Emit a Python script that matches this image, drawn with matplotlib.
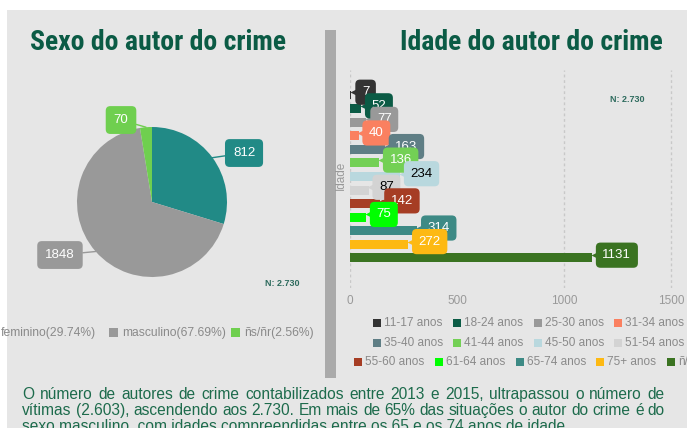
import matplotlib
matplotlib.use("Agg")
import matplotlib.pyplot as plt
from matplotlib.patches import Rectangle
from matplotlib.transforms import offset_copy

W, H = 687, 428

# data
sex_labels = ["feminino", "masculino", "ñs/ñr"]
sex_values = [812, 1848, 70]
sex_pct = ["29.74%", "67.69%", "2.56%"]
sex_colors = ["#218a86", "#999999", "#6fcf4f"]

age_labels = ["11-17 anos", "18-24 anos", "25-30 anos", "31-34 anos",
              "35-40 anos", "41-44 anos", "45-50 anos", "51-54 anos",
              "55-60 anos", "61-64 anos", "65-74 anos", "75+ anos", "ñ/r"]
age_values = [7, 52, 77, 40, 163, 136, 234, 87, 142, 75, 314, 272, 1131]
age_colors = ["#333333", "#0b5b45", "#999999", "#fa8060", "#5f7e85", "#73d055",
              "#b9d8de", "#d3d3d3", "#a63d24", "#00ff00", "#3d8a85", "#fdb913",
              "#3a7321"]
dark_text = {"#b9d8de", "#d3d3d3"}

title_green = "#0b5b45"
txt_gray = "#8a8a8a"
para_green = "#1d6b4c"
FONT = ["Liberation Sans", "DejaVu Sans"]
TFONT = ["Roboto Condensed", "Open Sans Condensed", "DejaVu Sans"]


def fx(x):
    return x / W


def fy(y):
    return 1 - y / H


fig = plt.figure(figsize=(W / 100, H / 100), dpi=100, facecolor="white")
fig.patches.append(Rectangle((fx(7), 0), 1, fy(10), transform=fig.transFigure,
                             facecolor="#e6e6e6", edgecolor="none", zorder=-10))
# divider
fig.patches.append(Rectangle((fx(325), fy(378)), fx(11), (378 - 30) / H,
                             transform=fig.transFigure, facecolor="#aaaaaa",
                             edgecolor="none"))

# titles
for tx, title in [(158, "Sexo do autor do crime"), (531, "Idade do autor do crime")]:
    fig.text(fx(tx), fy(43), title, family=TFONT, weight="heavy",
             fontstretch="condensed", fontsize=20, color=title_green,
             ha="center", va="center")

# pie
cx, cy, r = 152, 202, 75
lim = 1.4
ax_p = fig.add_axes([fx(cx - r * lim), fy(cy + r * lim), 2 * r * lim / W, 2 * r * lim / H])
ax_p.pie(sex_values, colors=sex_colors, startangle=90, counterclock=False, radius=1)
ax_p.set_xlim(-lim, lim)
ax_p.set_ylim(-lim, lim)
ax_p.axis("off")

lbl_pos = [(1.227, 0.653), (-1.227, -0.707), (-0.413, 1.093)]
anchors = [(0.80, 0.59), (-0.75, -0.66), (-0.08, 0.997)]
for val, col, pos, anc in zip(sex_values, sex_colors, lbl_pos, anchors):
    ax_p.annotate(str(val), xy=anc, xytext=pos, fontsize=9.5, color="white",
                  family=FONT, ha="center", va="center",
                  bbox=dict(boxstyle="round,pad=0.6,rounding_size=0.35", fc=col, ec="none"),
                  arrowprops=dict(arrowstyle="-", color=col, lw=1, shrinkA=0, shrinkB=0))

fig.text(fx(282), fy(283), "N: 2.730", family=FONT, weight="bold", fontsize=6.5,
         color="#2e6b5e", ha="center", va="center")

# pie legend
leg_x = [-12, 109, 231]
for lx, lab, pct, col in zip(leg_x, sex_labels, sex_pct, sex_colors):
    fig.patches.append(Rectangle((fx(lx), fy(337)), 9 / W, 9 / H,
                                 transform=fig.transFigure, facecolor=col, edgecolor="none"))
    fig.text(fx(lx + 13), fy(333), f"{lab}({pct})", family=FONT, fontsize=8.7,
             color=txt_gray, ha="left", va="center")

# bar chart
y0_px, step = 95, 13.58
top_px, bot_px = 70, 288
ax_b = fig.add_axes([fx(350), fy(bot_px), (W - 350) / W, (bot_px - top_px) / H])
ax_b.set_facecolor("none")
idx = list(range(len(age_values)))
ax_b.barh(idx, age_values, height=0.66, color=age_colors)
ax_b.set_ylim((bot_px - y0_px) / step, (top_px - y0_px) / step)
ax_b.set_xlim(0, (W - 350) / 0.214)
ax_b.set_xticks([0, 500, 1000, 1500])
ax_b.set_yticks([])
ax_b.tick_params(axis="x", length=0, pad=5, labelsize=8.5, labelcolor="#999999")
for lab in ax_b.get_xticklabels():
    lab.set_family(FONT)
for s in ax_b.spines.values():
    s.set_visible(False)
for gx in [0, 1000, 1500]:
    ax_b.axvline(gx, color="#c8c8c8", lw=1, ls=(0, (2, 2)), zorder=0)

for i, (v, col) in enumerate(zip(age_values, age_colors)):
    tc = "black" if col in dark_text else "white"
    tr = offset_copy(ax_b.transData, fig=fig, x=2.5, y=2, units="points")
    ax_b.plot([v], [i], marker="<", ms=7, color=col, mec="none", transform=tr,
              clip_on=False, zorder=4)
    ax_b.annotate(str(v), xy=(v, i), xytext=(7.5, 2), textcoords="offset points",
                  fontsize=9.5, color=tc, family=FONT, ha="left", va="center",
                  bbox=dict(boxstyle="round,pad=0.5,rounding_size=0.35", fc=col, ec="none"),
                  zorder=5, annotation_clip=False)

fig.text(fx(341), fy(175), "Idade", family=FONT, fontsize=8.5, color="#999999",
         rotation=90, ha="center", va="center")
fig.text(fx(627), fy(100), "N: 2.730", family=FONT, weight="bold", fontsize=6.5,
         color="#2e6b5e", ha="center", va="center")

# bar legend
rows_y = [323, 343, 362]
row_x = [[373, 453, 534, 614], [373, 453, 534, 614], [354, 435, 516, 596, 667]]
k = 0
for ry, xs in zip(rows_y, row_x):
    for lx in xs:
        fig.patches.append(Rectangle((fx(lx), fy(ry + 4)), 8 / W, 8 / H,
                                     transform=fig.transFigure, facecolor=age_colors[k],
                                     edgecolor="none"))
        fig.text(fx(lx + 11), fy(ry), age_labels[k], family=FONT, fontsize=8.5,
                 color=txt_gray, ha="left", va="center")
        k += 1

# paragraph, first two lines justified between x=22 and x=665
para = [
    "O número de autores de crime contabilizados entre 2013 e 2015, ultrapassou o número de",
    "vítimas (2.603), ascendendo aos 2.730. Em mais de 65% das situações o autor do crime é do",
    "sexo masculino, com idades compreendidas entre os 65 e os 74 anos de idade.",
]
PSIZE = 11.2
renderer = fig.canvas.get_renderer()
left, right = 22, 665
for j, line in enumerate(para):
    ypos = fy(399 + 16 * j)
    if j == len(para) - 1:
        fig.text(fx(left), ypos, line, family=FONT, fontsize=PSIZE,
                 color=para_green, ha="left", va="baseline")
        continue
    words = line.split(" ")
    texts = [fig.text(0, ypos, w, family=FONT, fontsize=PSIZE, color=para_green,
                      ha="left", va="baseline") for w in words]
    widths = [t.get_window_extent(renderer).width for t in texts]
    gap = (right - left - sum(widths)) / (len(words) - 1)
    x = left
    for t, w in zip(texts, widths):
        t.set_x(fx(x))
        x += w + gap

fig.savefig("out.png", dpi=100, facecolor="white")
